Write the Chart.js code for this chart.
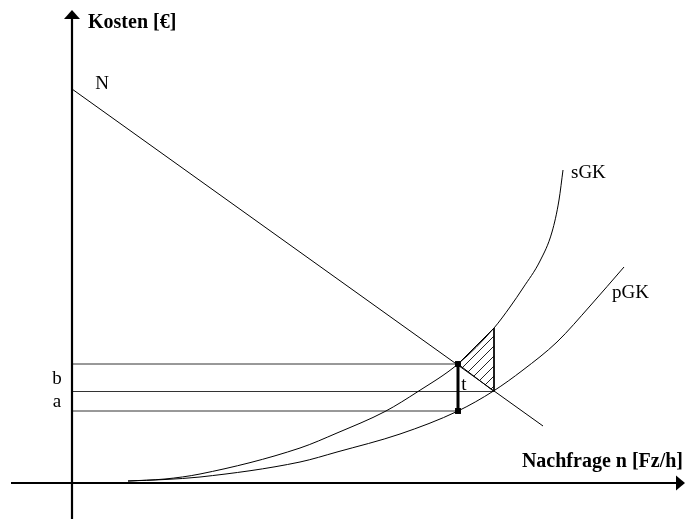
<!DOCTYPE html>
<html>
<head>
<meta charset="utf-8">
<script src="https://cdn.jsdelivr.net/npm/chart.js@4/dist/chart.umd.min.js"></script>
<style>
  body { margin: 0; background: #fff; }
  canvas { display: block; }
</style>
</head>
<body>
<canvas id="gkChart" width="685" height="519"></canvas>
<script>
// schematic units (no numbers printed on the axes)
const nLine = [{ x: 0, y: 78.8 }, { x: 94.2, y: 11.4 }];

const sGK = [
  { x: 11.2, y: 0.4 }, { x: 18.6, y: 0.8 }, { x: 25.6, y: 1.8 }, { x: 45.6, y: 7.0 },
  { x: 53.0, y: 10.0 }, { x: 62.6, y: 14.3 }, { x: 69.2, y: 18.3 }, { x: 77.2, y: 23.8 },
  { x: 84.4, y: 31.0 }, { x: 87.6, y: 35.2 }, { x: 90.2, y: 39.0 }, { x: 93.6, y: 44.4 },
  { x: 96.0, y: 50.2 }, { x: 97.4, y: 56.6 }, { x: 98.2, y: 62.6 },
];

const pGK = [
  { x: 11.2, y: 0.4 }, { x: 18.6, y: 0.7 }, { x: 25.6, y: 1.2 }, { x: 45.6, y: 4.2 },
  { x: 53.0, y: 6.2 }, { x: 65.6, y: 9.8 }, { x: 77.2, y: 14.4 }, { x: 84.3, y: 18.4 },
  { x: 90.2, y: 22.6 }, { x: 97.0, y: 28.2 }, { x: 103.6, y: 35.4 }, { x: 110.4, y: 43.2 },
];

const levelB = 23.8;
const levelMid = 18.3;
const levelA = 14.4;
const nOpt = 77.2;   // demand where N meets sGK
const nFree = 84.4;  // demand where N meets pGK

const xAxisLine = [{ x: -12.2, y: 0 }, { x: 121.2, y: 0 }];
const yAxisLine = [{ x: 0, y: -7.2 }, { x: 0, y: 93.2 }];

const labels = [
  { text: "Kosten [€]", x: 3.2, y: 92, bold: true, align: "left" },
  { text: "Nachfrage n [Fz/h]", x: 122.2, y: 4.2, bold: true, align: "right" },
  { text: "N", x: 6, y: 79.8, align: "center" },
  { text: "sGK", x: 99.8, y: 62, align: "left" },
  { text: "pGK", x: 108, y: 38, align: "left" },
  { text: "b", x: -3, y: 20.8, align: "center" },
  { text: "a", x: -3, y: 16.2, align: "center" },
  { text: "t", x: 78.4, y: 19.6, align: "center" },
];

// diagonal hatching for the triangle
function hatchPattern() {
  const c = document.createElement("canvas");
  c.width = 10;
  c.height = 10;
  const g = c.getContext("2d");
  g.strokeStyle = "#222";
  g.lineWidth = 1;
  g.beginPath();
  g.moveTo(0, 10); g.lineTo(10, 0);
  g.moveTo(-1, 1); g.lineTo(1, -1);
  g.moveTo(9, 11); g.lineTo(11, 9);
  g.stroke();
  return g.createPattern(c, "repeat");
}

const arrowsAndText = {
  id: "arrowsAndText",
  afterDatasetsDraw(chart) {
    const { ctx, scales } = chart;
    const xs = scales.x, ys = scales.y;
    ctx.save();
    ctx.fillStyle = "#000";
    // x axis arrow
    const xEnd = xAxisLine[1];
    let px = xs.getPixelForValue(xEnd.x), py = ys.getPixelForValue(xEnd.y);
    ctx.beginPath();
    ctx.moveTo(px - 2, py - 7.5);
    ctx.lineTo(px + 7, py);
    ctx.lineTo(px - 2, py + 7.5);
    ctx.closePath();
    ctx.fill();
    // y axis arrow
    const yEnd = yAxisLine[1];
    px = xs.getPixelForValue(yEnd.x); py = ys.getPixelForValue(yEnd.y);
    ctx.beginPath();
    ctx.moveTo(px - 8, py + 2);
    ctx.lineTo(px, py - 7);
    ctx.lineTo(px + 8, py + 2);
    ctx.closePath();
    ctx.fill();
    // labels
    ctx.textBaseline = "middle";
    labels.forEach((l) => {
      ctx.font = l.bold ? "bold 20px 'Liberation Serif', serif" : "19px 'Liberation Serif', serif";
      ctx.textAlign = l.align;
      ctx.fillText(l.text, xs.getPixelForValue(l.x), ys.getPixelForValue(l.y));
    });
    ctx.restore();
  },
};

const plain = (data, extra) => Object.assign({
  data,
  borderColor: "#000",
  borderWidth: 1,
  pointRadius: 0,
  fill: false,
  tension: 0,
}, extra);

const ctx = document.getElementById("gkChart").getContext("2d");

new Chart(ctx, {
  type: "line",
  data: {
    datasets: [
      plain(xAxisLine, { borderWidth: 2.2, order: 1 }),
      plain(yAxisLine, { borderWidth: 2.2, order: 1 }),
      plain([{ x: nOpt, y: levelA }, { x: nOpt, y: levelB }], {
        borderWidth: 3, pointRadius: 4.2, pointStyle: "rect",
        pointBackgroundColor: "#000", pointBorderWidth: 0, order: 1,
      }),
      plain(nLine, { order: 2 }),
      plain(sGK, { cubicInterpolationMode: "monotone", order: 2 }),
      plain(pGK, { cubicInterpolationMode: "monotone", order: 2 }),
      plain([{ x: 0, y: levelB }, { x: nOpt, y: levelB }], { borderColor: "#333", order: 3 }),
      plain([{ x: 0, y: levelMid }, { x: nFree, y: levelMid }], { borderColor: "#333", order: 3 }),
      plain([{ x: 0, y: levelA }, { x: nOpt, y: levelA }], { borderColor: "#333", order: 3 }),
      plain([
        { x: nOpt, y: levelB }, { x: nFree, y: 31.0 }, { x: nFree, y: levelMid }, { x: nOpt, y: levelB },
      ], { fill: "shape", backgroundColor: hatchPattern(), borderWidth: 1, order: 4 }),
    ],
  },
  options: {
    responsive: false,
    devicePixelRatio: 1,
    animation: false,
    layout: { padding: 0, autoPadding: false },
    plugins: {
      legend: { display: false },
      title: { display: false },
      tooltip: { enabled: false },
    },
    scales: {
      x: { type: "linear", min: -14.4, max: 122.6, display: false },
      y: { type: "linear", min: -7.2, max: 96.6, display: false },
    },
  },
  plugins: [arrowsAndText],
});
</script>
</body>
</html>
